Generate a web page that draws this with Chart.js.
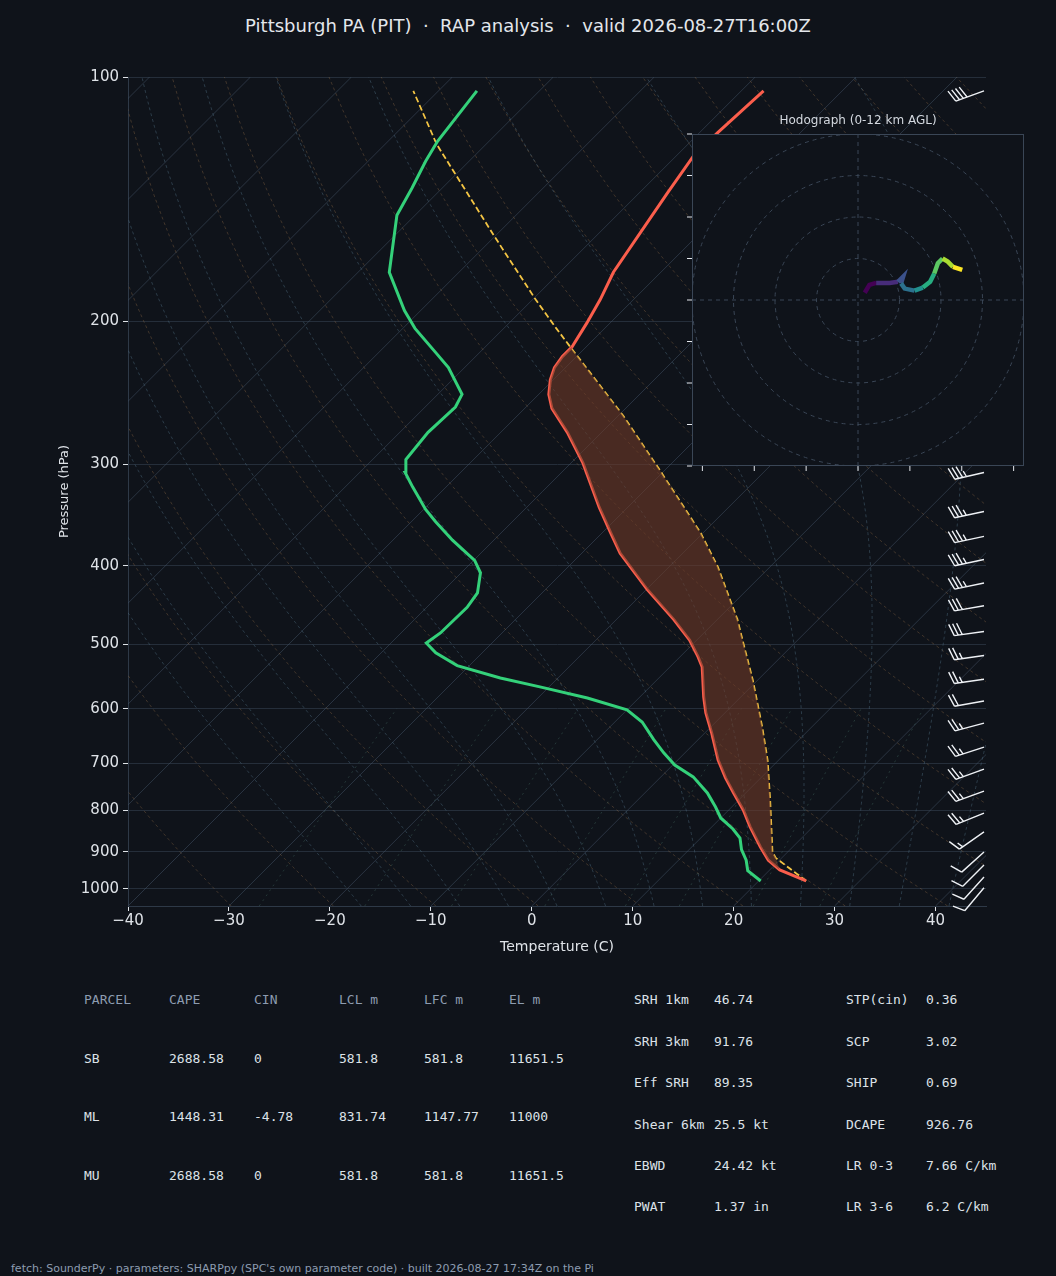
<!DOCTYPE html>
<html>
<head>
<meta charset="utf-8">
<script src="https://cdn.jsdelivr.net/npm/chart.js@4.4.1/dist/chart.umd.min.js"></script>
<style>
  html, body { margin: 0; padding: 0; background: #0f131a; }
  body { width: 1056px; height: 1276px; position: relative; overflow: hidden; font-family: "DejaVu Sans", sans-serif; }
  #title { position: absolute; top: 15px; left: 0; width: 1056px; text-align: center; color: #e3e7ec; font-size: 18px; white-space: pre; }
  #skew { position: absolute; left: 0; top: 0; }
  #hodo { position: absolute; left: 680px; top: 110px; }
  .t { position: absolute; font-family: "DejaVu Sans Mono", monospace; font-size: 13px; color: #dde2e8; white-space: pre; }
  .h { color: #8d9cb0; }
  #foot { position: absolute; left: 11px; top: 1262px; font-size: 11px; color: #8d9cb0; }
</style>
</head>
<body>
<div id="title">Pittsburgh PA (PIT)  ·  RAP analysis  ·  valid 2026-08-27T16:00Z</div>
<canvas id="skew" width="1056" height="960"></canvas>
<canvas id="hodo" width="356" height="370"></canvas>
<div id="tables"></div>
<div id="foot">fetch: SounderPy · parameters: SHARPpy (SPC's own parameter code) · built 2026-08-27 17:34Z on the Pi</div>
<script>
// sounding
const tempP = [978, 948, 922, 888, 839, 799, 762, 730, 694, 643, 607, 580, 533, 518, 494, 466, 428, 386, 364, 339, 299, 274, 256, 246, 236, 228, 221, 215, 201, 188, 174, 139, 125, 117, 104];
const tempC = [24.7, 21.0, 18.9, 16.8, 13.8, 11.4, 8.8, 6.5, 4.0, 0.7, -1.9, -3.7, -6.8, -8.2, -10.7, -14.3, -19.9, -26.2, -29.2, -32.8, -38.8, -43.4, -47.3, -49.0, -50.3, -51.1, -51.4, -51.4, -52.3, -53.3, -54.7, -57.2, -58.3, -58.2, -57.8];
const dewP = [978, 950, 922, 895, 866, 844, 818, 793, 762, 728, 704, 680, 655, 623, 602, 582, 564, 550, 531, 512, 498, 484, 450, 432, 408, 394, 372, 353, 341, 320, 307, 296, 274, 255, 246, 228, 219, 204, 194, 174, 148, 137, 127, 120, 104];
const dewC = [20.2, 17.9, 16.7, 15.2, 13.9, 12.3, 10.0, 8.4, 6.2, 3.2, 0.2, -2.1, -4.4, -7.3, -10.0, -15.1, -20.9, -25.7, -31.2, -34.6, -36.5, -36.1, -36.0, -36.4, -38.1, -39.9, -44.1, -47.6, -49.8, -53.3, -55.5, -56.7, -57.2, -57.0, -57.6, -61.6, -64.2, -68.8, -71.6, -76.9, -81.8, -83.0, -84.3, -85.1, -86.2];
const parcelP = [978, 916, 901, 777, 694, 632, 553, 498, 466, 401, 364, 305, 261, 216, 204, 188, 157, 121, 104];
const parcelC = [24.7, 19.4, 18.5, 13.1, 8.9, 5.1, -0.5, -5.1, -8.0, -15.2, -20.3, -30.5, -39.6, -51.3, -54.8, -59.7, -70.1, -84.9, -92.5];
const capeTop = 215, capeBottom = 950;

const barbP = [104, 130, 160, 190, 220, 250, 280, 307, 343, 368, 393, 420, 448, 482, 516, 552, 587, 625, 669, 712, 758, 807, 851, 901, 935, 967, 997];
const barbKt = [40, 40, 40, 40, 40, 35, 35, 35, 35, 35, 35, 35, 30, 30, 25, 25, 20, 25, 25, 25, 25, 25, 15, 10, 10, 10, 10];
const barbDir = [250, 250, 252, 254, 255, 256, 256, 257, 258, 258, 258, 258, 260, 262, 262, 262, 260, 255, 252, 250, 250, 248, 235, 228, 225, 222, 220];

const hodoU = [1.3, 2.2, 3.5, 6.1, 7.7, 8.7, 8.3, 9.0, 10.9, 12.5, 13.9, 14.7, 15.4, 16.3, 17.3, 18.3, 20.1];
const hodoV = [1.4, 2.9, 3.3, 3.3, 3.5, 4.5, 3.2, 2.2, 1.8, 2.4, 3.5, 5.1, 7.1, 8.0, 7.4, 6.4, 5.8];

const pressureTicks = [100, 200, 300, 400, 500, 600, 700, 800, 900, 1000];
const tempTicks = [-40, -30, -20, -10, 0, 10, 20, 30, 40];

const parcelHead = ['PARCEL', 'CAPE', 'CIN', 'LCL m', 'LFC m', 'EL m'];
const parcelRows = [
  ['SB', '2688.58', '0', '581.8', '581.8', '11651.5'],
  ['ML', '1448.31', '-4.78', '831.74', '1147.77', '11000'],
  ['MU', '2688.58', '0', '581.8', '581.8', '11651.5']
];
const indexLeft = [['SRH 1km', '46.74'], ['SRH 3km', '91.76'], ['Eff SRH', '89.35'], ['Shear 6km', '25.5 kt'], ['EBWD', '24.42 kt'], ['PWAT', '1.37 in']];
const indexRight = [['STP(cin)', '0.36'], ['SCP', '3.02'], ['SHIP', '0.69'], ['DCAPE', '926.76'], ['LR 0-3', '7.66 C/km'], ['LR 3-6', '6.2 C/km']];

// skew: 45 degrees on screen
const SKEW = 34.93;
const skewX = (t, p) => t + SKEW * Math.log(1050 / p);
const pts = (P, T) => P.map((p, i) => ({ x: skewX(T[i], p), y: p }));

const capePoly = [];
parcelP.forEach((p, i) => { if (p >= capeTop && p <= capeBottom) capePoly.push({ x: skewX(parcelC[i], p), y: p }); });
for (let i = tempP.length - 1; i >= 0; i--) {
  if (tempP[i] >= capeTop && tempP[i] <= capeBottom) capePoly.push({ x: skewX(tempC[i], tempP[i]), y: tempP[i] });
}
capePoly.reverse();

function drawPath(ctx, xs, ys, fn) {
  ctx.beginPath();
  fn.forEach((q, i) => {
    const px = xs.getPixelForValue(skewX(q[0], q[1])), py = ys.getPixelForValue(q[1]);
    if (i === 0) ctx.moveTo(px, py); else ctx.lineTo(px, py);
  });
  ctx.stroke();
}

const background = {
  id: 'background',
  beforeDatasetsDraw(chart) {
    const { ctx, chartArea: a, scales: { x: xs, y: ys } } = chart;
    ctx.save();
    ctx.fillStyle = '#dfe3e8'; ctx.font = '13px "DejaVu Sans"'; ctx.textAlign = 'center';
    ctx.translate(68, (a.top + a.bottom) / 2); ctx.rotate(-Math.PI / 2);
    ctx.fillText('Pressure (hPa)', 0, 0);
    ctx.restore();
    ctx.save();
    ctx.beginPath(); ctx.rect(a.left, a.top, a.right - a.left, a.bottom - a.top); ctx.clip();
    const levels = [];
    for (let p = 1050; p >= 100; p -= 10) levels.push(p);
    // isotherms
    ctx.strokeStyle = 'rgba(70,85,105,0.5)'; ctx.lineWidth = 1; ctx.setLineDash([]);
    for (let t = -120; t <= 50; t += 10) drawPath(ctx, xs, ys, [[t, 1050], [t, 100]]);
    // dry adiabats
    ctx.strokeStyle = 'rgba(140,105,70,0.4)'; ctx.setLineDash([3, 3]);
    for (let th = 240; th <= 480; th += 10) drawPath(ctx, xs, ys, levels.map(p => [th * Math.pow(p / 1000, 0.2857) - 273.15, p]));
    // moist adiabats
    ctx.strokeStyle = 'rgba(80,110,130,0.45)';
    const lapse = (T, p) => {
      const es = 6.112 * Math.exp(17.67 * (T - 273.15) / (T - 29.65));
      const rs = 0.622 * es / (p - es);
      return (287 * T + 2.5e6 * rs) / (p * (1004 + 2.5e6 * 2.5e6 * rs * 0.622 / (287 * T * T)));
    };
    for (let t0 = -20; t0 <= 40; t0 += 5) {
      let T = t0 + 273.15, Tb = T; const path = [], down = [];
      for (let p = 1000; p <= 1050; p += 5) { down.push([Tb - 273.15, p]); Tb += lapse(Tb, p) * 5; }
      for (let p = 1000; p >= 100; p -= 5) { path.push([T - 273.15, p]); T -= lapse(T, p) * 5; }
      drawPath(ctx, xs, ys, down.reverse().concat(path));
    }
    // mixing ratio lines
    ctx.strokeStyle = 'rgba(70,110,100,0.4)'; ctx.setLineDash([2, 4]);
    [0.4, 1, 2, 4, 7, 10, 16, 24].forEach(w => {
      const line = [];
      for (let p = 1050; p >= 600; p -= 50) {
        const e = p * (w / 1000) / (0.622 + w / 1000);
        const l = Math.log(e / 6.112);
        line.push([243.5 * l / (17.67 - l), p]);
      }
      drawPath(ctx, xs, ys, line);
    });
    ctx.restore();
  },
  afterDatasetsDraw(chart) {
    // wind barbs along the right edge
    const { ctx, chartArea: a, scales: { y: ys } } = chart;
    ctx.save();
    ctx.strokeStyle = '#eef1f5'; ctx.lineWidth = 1.4; ctx.setLineDash([]);
    barbP.forEach((p, i) => {
      const bx = a.right - 2, by = ys.getPixelForValue(p);
      const d = barbDir[i] * Math.PI / 180;
      const ux = Math.sin(d), uy = -Math.cos(d);
      const L = 30;
      const ex = bx + ux * L, ey = by + uy * L;
      const nx = uy, ny = -ux;
      const px = ny < 0 ? nx : -nx, py = ny < 0 ? ny : -ny;
      ctx.beginPath(); ctx.moveTo(bx, by); ctx.lineTo(ex, ey);
      let spd = Math.round(barbKt[i] / 5) * 5, k = 0;
      while (spd >= 10) {
        const sx = ex - ux * k * 4, sy = ey - uy * k * 4;
        ctx.moveTo(sx, sy); ctx.lineTo(sx + px * 12 + ux * 4, sy + py * 12 + uy * 4);
        spd -= 10; k++;
      }
      if (spd >= 5) {
        const sx = ex - ux * k * 4, sy = ey - uy * k * 4;
        ctx.moveTo(sx, sy); ctx.lineTo(sx + px * 6 + ux * 2, sy + py * 6 + uy * 2);
      }
      ctx.stroke();
    });
    ctx.restore();
  }
};

new Chart(document.getElementById('skew'), {
  type: 'line',
  data: {
    datasets: [
      { data: capePoly, borderWidth: 0, pointRadius: 0, fill: 'shape', backgroundColor: 'rgba(112,58,40,0.6)', borderColor: 'rgba(0,0,0,0)' },
      { data: pts(tempP, tempC), borderColor: '#fb5e4c', borderWidth: 3, pointRadius: 0, fill: false },
      { data: pts(dewP, dewC), borderColor: '#34d17a', borderWidth: 3, pointRadius: 0, fill: false },
      { data: pts(parcelP, parcelC), borderColor: '#f4c544', borderWidth: 1.8, borderDash: [6, 3], pointRadius: 0, fill: false }
    ]
  },
  options: {
    responsive: false, animation: false, events: [],
    layout: { padding: { top: 77, right: 70, left: 0, bottom: 0 } },
    plugins: { legend: { display: false }, tooltip: { enabled: false } },
    scales: {
      x: {
        type: 'linear', min: -40, max: 45,
        afterFit: s => { s.height = 54; },
        afterBuildTicks: s => { s.ticks = tempTicks.map(v => ({ value: v })); },
        ticks: { color: '#dfe3e8', font: { family: 'DejaVu Sans', size: 15 }, padding: 1, callback: v => String(v).replace('-', '\u2212') },
        grid: { display: true, drawOnChartArea: false, color: '#dfe3e8', tickLength: 5 },
        border: { color: '#2e3947' },
        title: { display: true, text: 'Temperature (C)', color: '#dfe3e8', font: { family: 'DejaVu Sans', size: 14 }, padding: { top: 0 } }
      },
      y: {
        type: 'logarithmic', reverse: true, min: 100, max: 1050,
        afterFit: s => { s.width = 128; },
        afterBuildTicks: s => { s.ticks = pressureTicks.map(v => ({ value: v })); },
        ticks: { color: '#dfe3e8', font: { family: 'DejaVu Sans', size: 15 }, padding: 4, callback: v => String(v) },
        grid: { color: '#252e3a', tickColor: '#dfe3e8', tickLength: 5 },
        border: { color: '#2e3947' },
        title: { display: false }
      }
    }
  },
  plugins: [background]
});

// hodograph
const viridis = ['#440154', '#472c7a', '#3b518b', '#2c718e', '#21908d', '#27ad81', '#5cc863', '#aadc32', '#fde725'];
const hodoPts = hodoU.map((u, i) => ({ x: u, y: hodoV[i] }));
const hodoFrame = {
  id: 'hodoFrame',
  beforeDatasetsDraw(chart) {
    const { ctx, chartArea: a, scales: { x: xs, y: ys } } = chart;
    ctx.save();
    ctx.fillStyle = '#0f131a'; ctx.fillRect(a.left, a.top, a.right - a.left, a.bottom - a.top);
    ctx.fillStyle = '#d3d8df'; ctx.font = '12px "DejaVu Sans"'; ctx.textAlign = 'center';
    ctx.fillText('Hodograph (0-12 km AGL)', (a.left + a.right) / 2, a.top - 10);
    const cx = xs.getPixelForValue(0), cy = ys.getPixelForValue(0);
    ctx.beginPath(); ctx.rect(a.left, a.top, a.right - a.left, a.bottom - a.top); ctx.clip();
    ctx.strokeStyle = '#3a4656'; ctx.lineWidth = 1; ctx.setLineDash([4, 4]);
    [8, 16, 24, 32].forEach(r => {
      ctx.beginPath(); ctx.arc(cx, cy, xs.getPixelForValue(r) - cx, 0, Math.PI * 2); ctx.stroke();
    });
    ctx.beginPath(); ctx.moveTo(a.left, cy); ctx.lineTo(a.right, cy); ctx.moveTo(cx, a.top); ctx.lineTo(cx, a.bottom); ctx.stroke();
    ctx.restore();
    ctx.save();
    ctx.strokeStyle = '#3a4656'; ctx.lineWidth = 1;
    ctx.strokeRect(a.left + 0.5, a.top + 0.5, a.right - a.left - 1, a.bottom - a.top - 1);
    ctx.strokeStyle = '#e6e9ee'; ctx.beginPath();
    [-30, -20, -10, 0, 10, 20, 30].forEach(v => { const px = xs.getPixelForValue(v); ctx.moveTo(px, a.bottom); ctx.lineTo(px, a.bottom + 5); });
    [-32, -24, -16, -8, 0, 8, 16, 24, 32].forEach(v => { const py = ys.getPixelForValue(v); ctx.moveTo(a.left, py); ctx.lineTo(a.left - 5, py); });
    ctx.stroke();
    ctx.restore();
  }
};
new Chart(document.getElementById('hodo'), {
  type: 'line',
  data: {
    datasets: [{
      data: hodoPts, borderWidth: 4.5, pointRadius: 0, fill: false,
      borderColor: viridis[0],
      segment: { borderColor: c => viridis[Math.min(viridis.length - 1, Math.floor(c.p0DataIndex / (hodoPts.length - 1) * viridis.length))] }
    }]
  },
  options: {
    responsive: false, animation: false, events: [],
    layout: { padding: { left: 12, top: 24, right: 12, bottom: 14 } },
    plugins: { legend: { display: false }, tooltip: { enabled: false } },
    scales: {
      x: { type: 'linear', min: -32, max: 32, display: false },
      y: { type: 'linear', min: -32, max: 32, display: false }
    }
  },
  plugins: [hodoFrame]
});

// tables
const tables = document.getElementById('tables');
function cell(text, x, y, head) {
  const d = document.createElement('div');
  d.className = 't' + (head ? ' h' : '');
  d.style.left = x + 'px'; d.style.top = (y - 8) + 'px';
  d.textContent = text; tables.appendChild(d);
}
const pcols = [84, 169, 254, 339, 424, 509];
const prows = [1000, 1059, 1117, 1176];
parcelHead.forEach((t, j) => cell(t, pcols[j], prows[0], true));
parcelRows.forEach((r, i) => r.forEach((t, j) => cell(t, pcols[j], prows[i + 1], false)));
const irows = [1000, 1042, 1083, 1125, 1166, 1207];
indexLeft.forEach((r, i) => { cell(r[0], 634, irows[i]); cell(r[1], 714, irows[i]); });
indexRight.forEach((r, i) => { cell(r[0], 846, irows[i]); cell(r[1], 926, irows[i]); });
</script>
</body>
</html>
